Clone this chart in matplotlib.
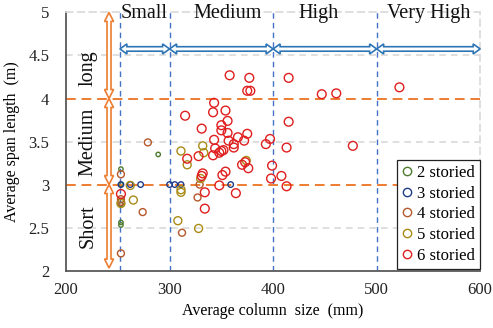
import numpy as np
import matplotlib
matplotlib.use("Agg")
import matplotlib.pyplot as plt
from matplotlib.patches import Polygon
from matplotlib.transforms import IdentityTransform
from matplotlib.lines import Line2D

plt.rcParams['font.family'] = ['Liberation Serif', 'DejaVu Serif']

# ---------------- data ----------------
s2_x = [253, 253, 253, 253, 253, 289]
s2_y = [3.18, 3.00, 2.77, 2.56, 2.53, 3.35]

s3_x = [253, 262, 272, 300, 305, 311, 359]
s3_y = [3.00, 3.00, 3.00, 3.00, 3.00, 3.00, 3.00]

s4_x = [253, 253, 253, 253, 274, 279, 329, 327, 312]
s4_y = [3.12, 2.83, 2.80, 2.20, 2.68, 3.49, 3.00, 2.85, 2.44]

s5_x = [262, 265, 253, 311, 332, 333, 317, 374, 330, 311, 311, 308, 328]
s5_y = [2.99, 2.82, 2.78, 3.39, 3.45, 3.37, 3.23, 3.28, 3.07, 2.94, 2.91, 2.58, 2.49]

s6_x = [253, 358, 377, 375, 378, 343, 342, 354, 315, 356, 350, 350, 331, 356, 343,
        375, 366, 372, 357, 362, 362, 397, 393, 344, 350, 348, 352, 317, 328, 342,
        373, 376, 370, 399, 398, 354, 351, 332, 331, 348, 334, 334, 364,
        415, 447, 461, 415, 413, 477, 408, 413, 522]
s6_y = [2.89, 4.27, 4.24, 4.09, 4.09, 3.95, 3.84, 3.86, 3.80, 3.74, 3.69, 3.63, 3.65, 3.60, 3.52,
        3.59, 3.55, 3.51, 3.51, 3.47, 3.43, 3.53, 3.47, 3.42, 3.39, 3.37, 3.40, 3.30, 3.33, 3.34,
        3.26, 3.19, 3.23, 3.22, 3.07, 3.15, 3.11, 3.13, 3.10, 2.99, 2.91, 2.72, 2.90,
        4.24, 4.05, 4.06, 3.73, 3.43, 3.45, 3.10, 2.98, 4.13]

series_labels = ['2 storied', '3 storied', '4 storied', '5 storied', '6 storied']
series_x = [s2_x, s3_x, s4_x, s5_x, s6_x]
series_y = [s2_y, s3_y, s4_y, s5_y, s6_y]
series_colors = ['#4E7A2E', '#1F3C88', '#B5582A', '#A98B16', '#E01E1E']
series_sizes = [10, 16, 25, 33, 40]

size_bounds = [252, 300, 400, 500, 600]
size_names = ['Small', 'Medium', 'High', 'Very High']
size_name_x = [275, 356, 444, 550]
span_bounds = [5.0, 4.0, 3.0, 2.03]
span_names = ['long', 'Medium', 'Short']
span_name_y = [4.35, 3.5, 2.52]
span_lines = [4.0, 3.0]
grid_lines = [2.5, 3.5, 4.5]

x_ticks = [200, 300, 400, 500, 600]
y_ticks = [2, 2.5, 3, 3.5, 4, 4.5, 5]

# ---------------- figure ----------------
fig = plt.figure(figsize=(4.93, 3.28), dpi=100)
ax = fig.add_axes([0.134, 0.175, 0.84, 0.787])
ax.set_xlim(200, 600)
ax.set_ylim(2, 5)
ax.set_xticks(x_ticks)
ax.set_yticks(y_ticks)
ax.set_yticklabels([('%g' % v) for v in y_ticks])
ax.tick_params(length=0, labelsize=12, colors='#222222')
ax.tick_params(axis='y', pad=12)
ax.tick_params(axis='x', pad=8)

for gy in grid_lines:
    ax.axhline(gy, color='#D9D9D9', linestyle=(0, (4, 3)), lw=1.2, zorder=0)
for side in ['top', 'right']:
    ax.spines[side].set_color('#D9D9D9')
    ax.spines[side].set_linestyle((0, (4, 3)))
    ax.spines[side].set_linewidth(1.2)
for side in ['left', 'bottom']:
    ax.spines[side].set_color('#595959')
    ax.spines[side].set_linewidth(1.3)

ax.set_xlabel('Average column  size  (mm)', fontsize=11.5, labelpad=4)
ax.set_ylabel('Average span length  (m)', fontsize=11.5, labelpad=6)

# boundaries
for xb in size_bounds[:-1]:
    ax.axvline(xb, color='#4472C4', lw=1.0, linestyle=(0, (4, 3)), zorder=1)
for yb in span_lines:
    ax.axhline(yb, color='#ED7D31', lw=1.4, linestyle=(0, (5, 3)), zorder=1)

# scatter
for xs, ys, c, s in zip(series_x, series_y, series_colors, series_sizes):
    ax.scatter(xs, ys, s=s, facecolors='none', edgecolors=c, linewidths=1.0, zorder=3)

# hollow double arrows
def hollow_arrow(p0, p1, sw, hw, hl, color, lw):
    P0 = np.array(ax.transData.transform(p0))
    P1 = np.array(ax.transData.transform(p1))
    u = (P1 - P0) / np.linalg.norm(P1 - P0)
    n = np.array([-u[1], u[0]])
    verts = [P0,
             P0 + u * hl + n * hw / 2, P0 + u * hl + n * sw / 2,
             P1 - u * hl + n * sw / 2, P1 - u * hl + n * hw / 2,
             P1,
             P1 - u * hl - n * hw / 2, P1 - u * hl - n * sw / 2,
             P0 + u * hl - n * sw / 2, P0 + u * hl - n * hw / 2]
    poly = Polygon(verts, closed=True, facecolor='white', edgecolor=color,
                   lw=lw, transform=IdentityTransform(), clip_on=False, zorder=4)
    fig.add_artist(poly)

arrow_y = 4.576
for a, b in zip(size_bounds[:-1], size_bounds[1:]):
    hollow_arrow((a, arrow_y), (b, arrow_y), 4.5, 10, 7, '#2E75B6', 1.2)
arrow_x = 241.5
for a, b in zip(span_bounds[:-1], span_bounds[1:]):
    hollow_arrow((arrow_x, a), (arrow_x, b), 4, 9, 9, '#ED7D31', 1.2)

for name, xx in zip(size_names, size_name_x):
    ax.text(xx, 4.935, name, ha='center', va='baseline', fontsize=14.5, color='#111111', zorder=5)
for name, yy in zip(span_names, span_name_y):
    ax.text(221, yy, name, ha='center', va='center', rotation=90, fontsize=14.5,
            color='#111111', zorder=5)

handles = [Line2D([], [], linestyle='none', marker='o', markersize=6,
                  markerfacecolor='none', markeredgecolor=c, markeredgewidth=1.0)
           for c in series_colors]
leg = ax.legend(handles, series_labels, loc='lower right', bbox_to_anchor=(1.0, 0.008),
                borderaxespad=0, fontsize=12, frameon=True, fancybox=False,
                edgecolor='#222222', handlelength=0.6, handletextpad=0.3,
                labelspacing=0.28, borderpad=0.3, framealpha=1)
leg.get_frame().set_linewidth(0.9)
leg.set_zorder(6)

fig.savefig('out.png', dpi=100)
